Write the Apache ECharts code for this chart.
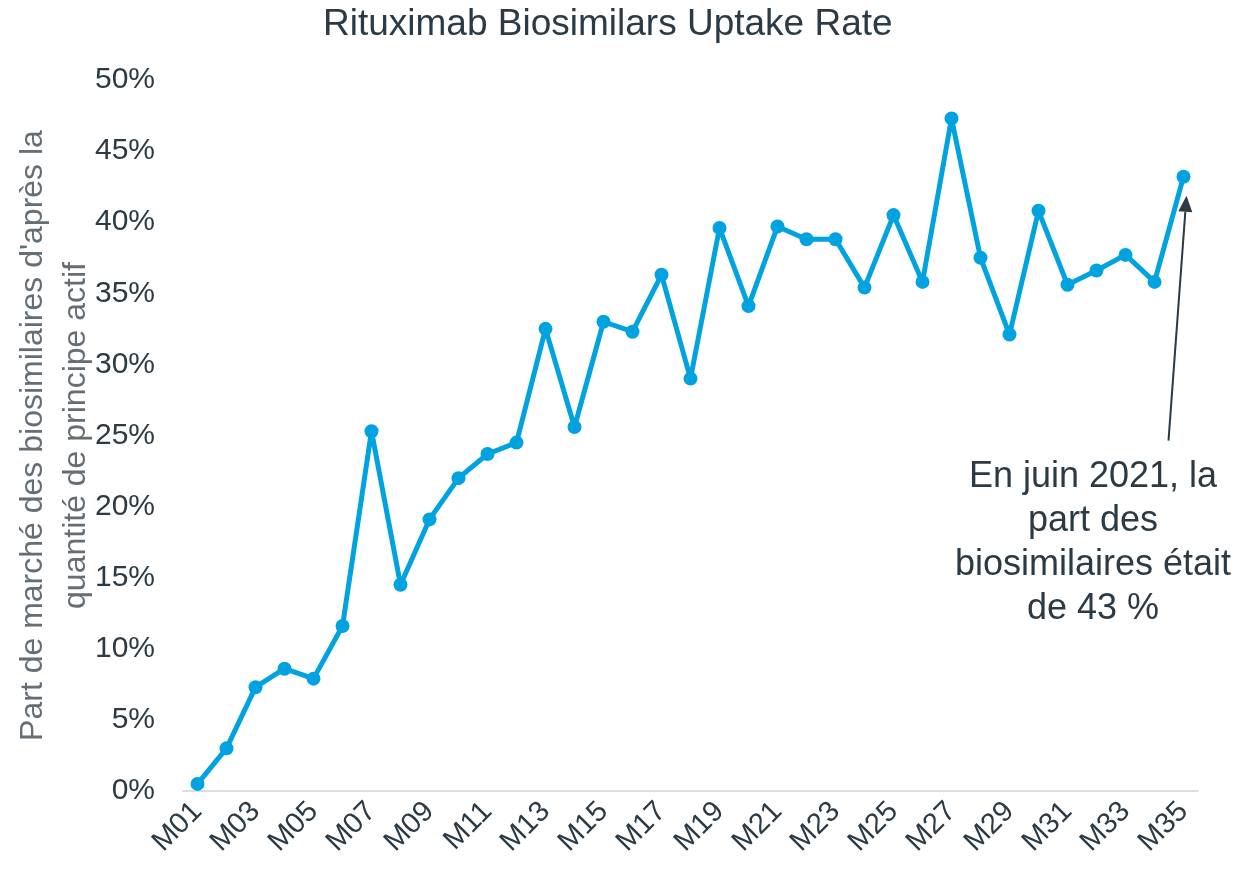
<!DOCTYPE html>
<html>
<head>
	<meta charset="utf-8" />
	<title>Rituximab Biosimilars Uptake Rate</title>
	<script src="https://cdn.jsdelivr.net/npm/echarts@6/dist/echarts.min.js"></script>
	<style>
		html, body { margin: 0; padding: 0; background: #fff; }
		#main { width: 1240px; height: 876px; }
	</style>
</head>
<body>
	<div id="main"></div>
	<script>
		// months M01..M35
		var months = ['M01', 'M02', 'M03', 'M04', 'M05', 'M06', 'M07', 'M08', 'M09', 'M10',
			'M11', 'M12', 'M13', 'M14', 'M15', 'M16', 'M17', 'M18', 'M19', 'M20',
			'M21', 'M22', 'M23', 'M24', 'M25', 'M26', 'M27', 'M28', 'M29', 'M30',
			'M31', 'M32', 'M33', 'M34', 'M35'];
		// part de marché (%)
		var uptake = [0.5, 3.0, 7.3, 8.6, 7.9, 11.6, 25.3, 14.5, 19.1, 22.0,
			23.7, 24.5, 32.5, 25.6, 33.0, 32.3, 36.3, 29.0, 39.6, 34.1,
			39.7, 38.8, 38.8, 35.4, 40.5, 35.8, 47.3, 37.5, 32.1, 40.8,
			35.6, 36.6, 37.7, 35.8, 43.2];
		var yTicks = [0, 5, 10, 15, 20, 25, 30, 35, 40, 45, 50];
		var noteLines = ['En juin 2021, la', 'part des', 'biosimilaires était', 'de 43 %'];

		var textColor = '#2c3a45';
		var fontFam = "'Liberation Sans', Arial, sans-serif";

		var chart = echarts.init(document.getElementById('main'));
		var option = {
			animation: false,
			title: {
				text: 'Rituximab Biosimilars Uptake Rate',
				left: 318,
				top: 1,
				textStyle: { color: textColor, fontSize: 37, fontWeight: 'normal', fontFamily: fontFam }
			},
			grid: { left: 183, right: 42, top: 80, bottom: 85, containLabel: false, outerBoundsMode: 'none' },
			xAxis: {
				type: 'category',
				data: months,
				boundaryGap: true,
				axisLine: { lineStyle: { color: '#d9dee2', width: 2 } },
				axisTick: { show: false },
				axisLabel: {
					interval: 1,
					rotate: 45,
					margin: 16,
					color: textColor,
					fontSize: 29,
					fontFamily: fontFam
				}
			},
			yAxis: {
				type: 'value',
				min: yTicks[0],
				max: yTicks[yTicks.length - 1],
				interval: 5,
				name: "Part de marché des biosimilaires d'après la\nquantité de principe actif",
				nameLocation: 'middle',
				nameGap: 85,
				nameMoveOverlap: false,
				nameTextStyle: { color: '#666e75', fontSize: 32, fontFamily: fontFam, lineHeight: 43 },
				axisLine: { show: false },
				axisTick: { show: false },
				splitLine: { show: false },
				axisLabel: {
					margin: 28,
					color: textColor,
					fontSize: 30,
					fontFamily: fontFam,
					formatter: '{value}%'
				}
			},
			series: [{
				type: 'line',
				data: uptake,
				symbol: 'circle',
				symbolSize: 14,
				lineStyle: { color: '#00a3e0', width: 5 },
				itemStyle: { color: '#00a3e0' }
			}]
		};
		chart.setOption(option);

		// annotation arrow pointing at the last point
		var last = chart.convertToPixel({ xAxisIndex: 0, yAxisIndex: 0 }, [months[months.length - 1], uptake[uptake.length - 1]]);
		var tip = [last[0] + 3, last[1] + 19];
		var tail = [last[0] - 15, last[1] + 264];
		var ang = Math.atan2(tip[1] - tail[1], tip[0] - tail[0]);
		var hl = 16, hw = 7;
		var base = [tip[0] - hl * Math.cos(ang), tip[1] - hl * Math.sin(ang)];
		var head = [
			tip,
			[base[0] + hw * Math.sin(ang), base[1] - hw * Math.cos(ang)],
			[base[0] - hw * Math.sin(ang), base[1] + hw * Math.cos(ang)]
		];
		chart.setOption({
			graphic: [
				{
					type: 'line',
					shape: { x1: tail[0], y1: tail[1], x2: base[0], y2: base[1] },
					style: { stroke: textColor, lineWidth: 2 }
				},
				{
					type: 'polygon',
					shape: { points: head },
					style: { fill: textColor }
				},
				{
					type: 'text',
					x: 1093,
					y: 455,
					style: {
						text: noteLines.join('\n'),
						align: 'center',
						verticalAlign: 'top',
						fill: textColor,
						fontSize: 36,
						lineHeight: 44,
						fontFamily: fontFam
					}
				}
			]
		});
	</script>
</body>
</html>
